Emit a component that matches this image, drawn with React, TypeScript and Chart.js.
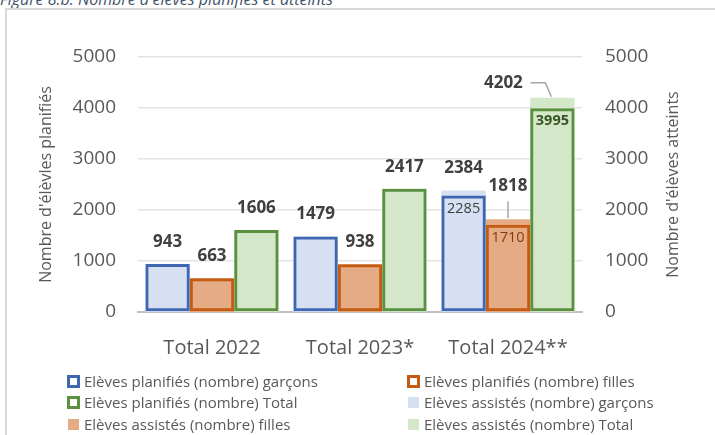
import React, { useEffect, useRef } from "react";
import { Chart, registerables } from "chart.js";

Chart.register(...registerables);

const categories = ["Total 2022", "Total 2023*", "Total 2024**"];
const plannedBoys = [943, 1479, 2285];
const plannedGirls = [663, 938, 1710];
const plannedTotal = [1606, 2417, 3995];
const assistedBoys = [943, 1479, 2384];
const assistedGirls = [663, 938, 1818];
const assistedTotal = [1606, 2417, 4202];
const axisMax = 5000;
const axisStep = 1000;

const leftAxisTitle = "Nombre d'élèvles planifiés";
const rightAxisTitle = "Nombre d'élèves atteints";

const seriesNames = [
  "Elèves planifiés (nombre) garçons",
  "Elèves planifiés (nombre) filles",
  "Elèves planifiés (nombre) Total",
  "Elèves assistés (nombre) garçons",
  "Elèves assistés (nombre) filles",
  "Elèves assistés (nombre) Total",
];

const FONT = "'Open Sans', sans-serif";
const TICK_COLOR = "#595959";
const BORDERS = ["#3F67B1", "#C55A11", "#5A9140"];
const FILLS = ["#D6E0F2", "#E5AB84", "#D4E7C9"];
const INNER_STYLES = [
  { color: "#404040", weight: "normal" },
  { color: "#843C0C", weight: "normal" },
  { color: "#375623", weight: "bold" },
];
// label callouts (series index - category index)
const CALLOUTS: Record<string, { dx: number; dy: number; kind: string }> = {
  "1-2": { dx: 0, dy: -33, kind: "vertical" },
  "2-2": { dx: -49, dy: -15, kind: "elbow" },
};

const labelPlugin = {
  id: "valueLabels",
  afterDatasetsDraw(chart: any) {
    const ctx = chart.ctx;
    ctx.save();
    ctx.textAlign = "center";
    ctx.textBaseline = "middle";
    for (let s = 0; s < 3; s++) {
      const pMeta = chart.getDatasetMeta(s);
      const aMeta = chart.getDatasetMeta(s + 3);
      const pData = chart.data.datasets[s].data;
      const aData = chart.data.datasets[s + 3].data;
      aMeta.data.forEach((bar: any, i: number) => {
        const x = bar.x;
        const y = bar.y;
        const c = CALLOUTS[`${s}-${i}`];
        ctx.font = `bold 17px ${FONT}`;
        ctx.fillStyle = "#404040";
        if (!c) {
          ctx.fillText(String(aData[i]), x, y - 22);
        } else {
          ctx.fillText(String(aData[i]), x + c.dx, y + c.dy);
          ctx.strokeStyle = "#A6A6A6";
          ctx.lineWidth = 1.5;
          ctx.beginPath();
          if (c.kind === "vertical") {
            ctx.moveTo(x, y + c.dy + 15);
            ctx.lineTo(x, y - 1);
          } else {
            ctx.moveTo(x - 22, y + c.dy);
            ctx.lineTo(x - 7, y + c.dy);
            ctx.lineTo(x - 1, y - 1);
          }
          ctx.stroke();
        }
        if (pData[i] !== aData[i]) {
          const pb = pMeta.data[i];
          const st = INNER_STYLES[s];
          ctx.font = `${st.weight} 14.5px ${FONT}`;
          ctx.fillStyle = st.color;
          ctx.fillText(String(pData[i]), pb.x, pb.y + 13);
        }
      });
    }
    // right axis title, reading bottom-to-top
    const y2 = chart.scales.y2;
    ctx.save();
    ctx.translate(673, (y2.top + y2.bottom) / 2);
    ctx.rotate(-Math.PI / 2);
    ctx.font = `16px ${FONT}`;
    ctx.fillStyle = TICK_COLOR;
    ctx.textAlign = "center";
    ctx.textBaseline = "middle";
    ctx.fillText(rightAxisTitle, 0, 0);
    ctx.restore();
    ctx.restore();
  },
};

export default function App() {
  const ref = useRef<HTMLCanvasElement | null>(null);

  useEffect(() => {
    if (!ref.current) return;
    const planned = [plannedBoys, plannedGirls, plannedTotal];
    const assisted = [assistedBoys, assistedGirls, assistedTotal];
    const stacks = ["g", "f", "t"];
    const datasets: any[] = [];
    planned.forEach((d, i) => {
      datasets.push({
        label: seriesNames[i],
        data: d,
        backgroundColor: "rgba(0,0,0,0)",
        borderColor: BORDERS[i],
        borderWidth: 3,
        borderSkipped: false,
        stack: stacks[i],
        yAxisID: "y",
      });
    });
    assisted.forEach((d, i) => {
      datasets.push({
        label: seriesNames[i + 3],
        data: d,
        backgroundColor: FILLS[i],
        borderWidth: 0,
        stack: stacks[i],
        yAxisID: "y2",
      });
    });
    const tickFont = { family: FONT, size: 19 };
    const fmt = (v: any) => String(v);
    const chart = new Chart(ref.current, {
      type: "bar",
      data: { labels: categories, datasets },
      plugins: [labelPlugin],
      options: {
        animation: false,
        responsive: true,
        maintainAspectRatio: false,
        datasets: { bar: { categoryPercentage: 0.9, barPercentage: 1 } } as any,
        layout: { padding: { top: 57, bottom: 63, left: 0, right: 0 } },
        plugins: { legend: { display: false }, tooltip: { enabled: false } },
        scales: {
          x: {
            stacked: true,
            grid: { display: false, drawTicks: false },
            border: { display: true, color: "#BFBFBF", width: 2 },
            ticks: { color: TICK_COLOR, font: { family: FONT, size: 20 }, padding: 24 },
            afterFit: (s: any) => {
              s.height = 60;
            },
          },
          y: {
            position: "left",
            stacked: false,
            min: 0,
            max: axisMax,
            ticks: { stepSize: axisStep, color: TICK_COLOR, font: tickFont, padding: 22, callback: fmt },
            grid: { color: "#E4E4E4", lineWidth: 1.5, drawTicks: false },
            border: { display: false },
            title: {
              display: true,
              text: leftAxisTitle,
              color: TICK_COLOR,
              font: { family: FONT, size: 16, lineHeight: 1.2 },
              padding: { top: 37, bottom: 0 },
            },
            afterFit: (s: any) => {
              s.width = 138;
            },
          },
          y2: {
            position: "right",
            stacked: false,
            min: 0,
            max: axisMax,
            ticks: { stepSize: axisStep, color: TICK_COLOR, font: tickFont, padding: 23, callback: fmt },
            grid: { display: false, drawTicks: false },
            border: { display: false },
            title: { display: false },
            afterFit: (s: any) => {
              s.width = 133;
            },
          },
        },
      } as any,
    });
    return () => chart.destroy();
  }, []);

  const legendItems = seriesNames.map((name, i) => {
    const col = i % 2;
    const row = Math.floor(i / 2);
    const isPlanned = i < 3;
    const c = i % 3;
    const box = isPlanned ? (
      <span
        style={{
          display: "inline-block",
          width: 13,
          height: 13,
          boxSizing: "border-box",
          border: `3px solid ${BORDERS[c]}`,
          background: "#fff",
          marginRight: 4,
        }}
      />
    ) : (
      <span
        style={{
          display: "inline-block",
          width: 11,
          height: 11,
          background: FILLS[c],
          marginLeft: 1,
          marginRight: 5,
        }}
      />
    );
    return (
      <div
        key={name}
        style={{
          position: "absolute",
          left: col === 0 ? 67 : 407,
          top: [381, 402, 424][row] - 10,
          height: 20,
          display: "flex",
          alignItems: "center",
          whiteSpace: "nowrap",
          font: `15px ${FONT}`,
          color: TICK_COLOR,
        }}
      >
        {box}
        <span>{name}</span>
      </div>
    );
  });

  return (
    <div
      style={{
        position: "fixed",
        left: 0,
        top: 0,
        width: 715,
        height: 435,
        overflow: "hidden",
        background: "#fff",
      }}
    >
      <div
        style={{
          position: "absolute",
          left: 0,
          top: -12,
          lineHeight: "20px",
          font: `italic 16px ${FONT}`,
          color: "#44546A",
          whiteSpace: "nowrap",
        }}
      >
        Figure 8.b: Nombre d'élèves planifiés et atteints
      </div>
      <div
        style={{
          position: "absolute",
          left: 5,
          top: 8,
          width: 800,
          height: 600,
          border: "2px solid #D9D9D9",
        }}
      />
      <div style={{ position: "absolute", left: 0, top: 0, width: 715, height: 435 }}>
        <canvas ref={ref} />
      </div>
      {legendItems}
    </div>
  );
}
